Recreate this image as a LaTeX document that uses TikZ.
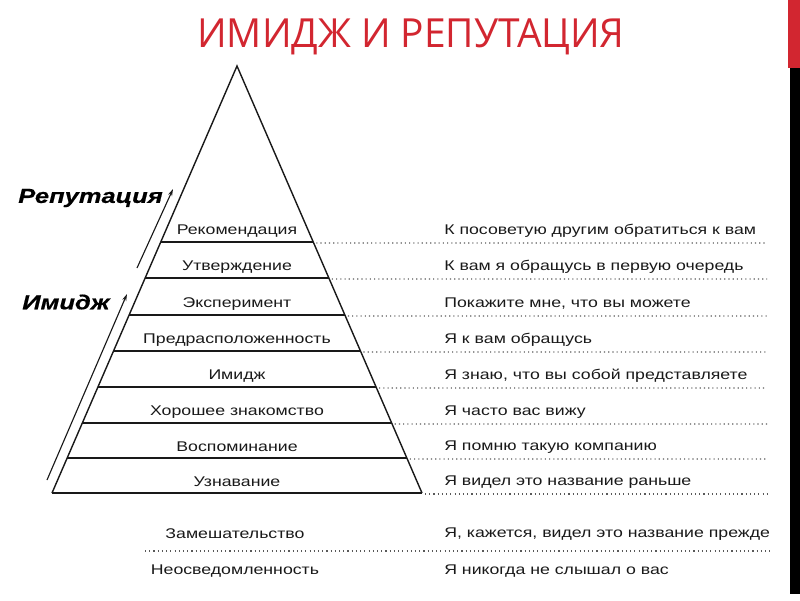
\documentclass[tikz,border=0pt]{standalone}
\usepackage{fontspec}
\setmainfont{Liberation Sans}
\newfontfamily\titlefont[FakeStretch=0.97]{Open Sans}
\newfontfamily\widefont[FakeStretch=1.26]{Liberation Sans}
\newfontfamily\sidefont[FakeStretch=1.25,FakeBold=0.6]{Liberation Sans}
\usetikzlibrary{arrows.meta,calc,positioning}
\definecolor{titlered}{RGB}{210,38,48}
\definecolor{inkgray}{RGB}{25,25,25}

\begin{document}
\begin{tikzpicture}[x=0.025cm,y=-0.025cm,
    level/.style={font=\widefont\fontsize{10}{12}\selectfont, text=inkgray, inner sep=0pt},
    answer/.style={level, anchor=west},
    side/.style={font=\sidefont\bfseries\itshape\fontsize{14.5}{16}\selectfont, anchor=west, inner sep=0pt},
    edge/.style={line width=1pt, inkgray},
    step line/.style={line width=1.2pt, inkgray},
    dotline/.style={line width=0.8pt, black!65, dash pattern=on 0.8pt off 2.2pt},
    uparrow/.style={line width=0.8pt, inkgray, -{Stealth[length=5pt,width=3pt]}}]
\useasboundingbox (0,0) rectangle (800,600);
% Title
\node[font=\titlefont\fontsize{28.5}{30}\selectfont, text=titlered, anchor=base west, inner sep=0pt] (title) at (197,47) {ИМИДЖ И РЕПУТАЦИЯ};
% Side bars
\fill[titlered] (788,0) rectangle (800,68);
\fill[black] (790,68) rectangle (800,594);
% Pyramid
\coordinate (apex) at (237,66);
\coordinate (bl) at (52,493);
\coordinate (br) at (422,493);
\draw[edge] (bl) -- (apex) -- (br);
\foreach \y/\lbl/\ans [count=\i] in {
    242/Рекомендация/К посоветую другим обратиться к вам,
    278/Утверждение/К вам я обращусь в первую очередь,
    315/Эксперимент/{Покажите мне, что вы можете},
    351/Предрасположенность/Я к вам обращусь,
    387/Имидж/{Я знаю, что вы собой представляете},
    423/Хорошее знакомство/Я часто вас вижу,
    458/Воспоминание/Я помню такую компанию,
    493/Узнавание/Я видел это название раньше} {
  \coordinate (l\i) at ($(apex)!{(\y-66)/427}!(bl)$);
  \coordinate (r\i) at ($(apex)!{(\y-66)/427}!(br)$);
  \draw[step line] (l\i) -- (r\i);
  \node[level] (lvl\i) at (237,\y-11) {\lbl};
  \node[answer] (ans\i) at (444,\y-11) {\ans};
  \draw[dotline] ($(r\i)+(3,1)$) -- (767,\y+1);
}
% Below the pyramid
\node[level] (conf) at (235,534) {Замешательство};
\node[answer] (confans) at (444,534) {Я, кажется, видел это название прежде};
\draw[dotline] (145,551) -- (770,551);
\node[level] (unaw) at (235,571) {Неосведомленность};
\node[answer] (unawans) at (444,571) {Я никогда не слышал о вас};
% Side labels and arrows
\node[side] (rep) at (18,198) {Репутация};
\node[side] (img) at (22,302) {Имидж};
\coordinate (repS) at (137,268);
\coordinate (repE) at (173,189);
\coordinate (imgS) at (47,480);
\coordinate (imgE) at (127,294);
\draw[uparrow] (repS) -- (repE);
\draw[uparrow] (imgS) -- (imgE);
\end{tikzpicture}
\end{document}
